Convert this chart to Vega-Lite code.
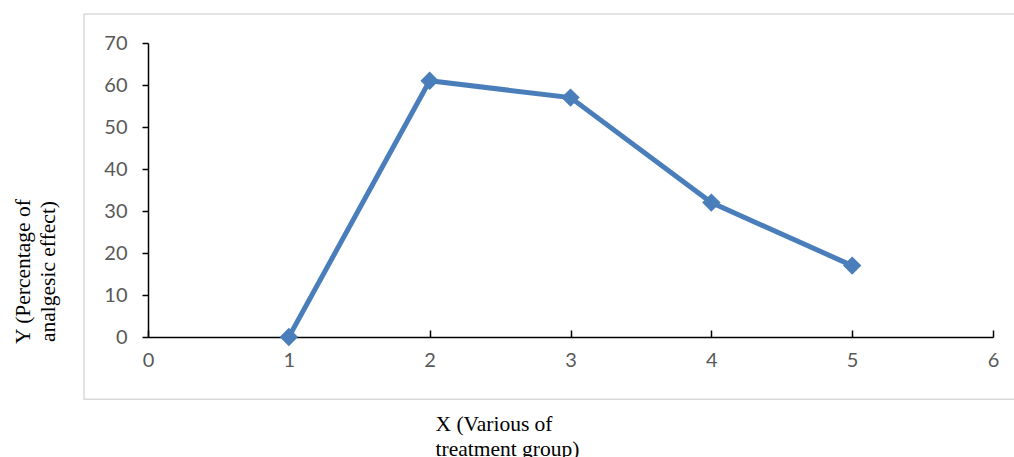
{
  "$schema": "https://vega.github.io/schema/vega-lite/v6.json",
  "autosize": "none",
  "width": 845,
  "height": 294,
  "padding": {"left": 148, "top": 43, "right": 21, "bottom": 120},
  "background": "white",
  "config": {"view": {"stroke": null}},
  "layer": [
    {
      "data": {"values": [{}]},
      "mark": {"type": "rect", "fill": null, "stroke": "#d9d9d9", "strokeWidth": 1.5, "clip": false},
      "encoding": {
        "x": {"datum": -0.454, "type": "quantitative", "scale": {"domain": [0, 6], "nice": false}},
        "x2": {"datum": 6.16},
        "y": {"datum": -14.8, "type": "quantitative", "scale": {"domain": [0, 70], "nice": false}},
        "y2": {"datum": 76.9}
      }
    },
    {
      "data": {
        "values": [
          {"x": 1, "y": 0},
          {"x": 2, "y": 61},
          {"x": 3, "y": 57},
          {"x": 4, "y": 32},
          {"x": 5, "y": 17}
        ]
      },
      "layer": [
        {
          "mark": {"type": "line", "color": "#4a7ebb", "strokeWidth": 5},
          "encoding": {
            "x": {"field": "x", "type": "quantitative"},
            "y": {"field": "y", "type": "quantitative"}
          }
        },
        {
          "mark": {"type": "point", "shape": "diamond", "filled": true, "color": "#4a7ebb", "size": 340, "opacity": 1},
          "encoding": {
            "x": {"field": "x", "type": "quantitative"},
            "y": {"field": "y", "type": "quantitative"}
          }
        }
      ],
      "encoding": {}
    }
  ],
  "resolve": {"scale": {"x": "shared", "y": "shared"}},
  "encoding": {
    "x": {
      "type": "quantitative",
      "axis": {
        "values": [0, 1, 2, 3, 4, 5, 6],
        "grid": false,
        "labelFlush": false,
        "domainColor": "black",
        "domainWidth": 1.5,
        "tickColor": "black",
        "tickWidth": 1.5,
        "tickSize": -7,
        "labelPadding": 20,
        "labelFont": "Lato",
        "labelFontSize": 20,
        "labelColor": "#595959",
        "title": ["X (Various of", "treatment group)"],
        "titleFont": "Liberation Serif",
        "titleFontSize": 21.5,
        "titleFontWeight": "normal",
        "titleColor": "black",
        "titleAlign": "left",
        "titleBaseline": "alphabetic",
        "titleLineHeight": 25,
        "titleX": 287,
        "titleY": 93
      }
    },
    "y": {
      "type": "quantitative",
      "axis": {
        "values": [0, 10, 20, 30, 40, 50, 60, 70],
        "grid": false,
        "domainColor": "black",
        "domainWidth": 1.5,
        "tickColor": "black",
        "tickWidth": 1.5,
        "tickSize": 6,
        "labelPadding": 15,
        "labelFont": "Lato",
        "labelFontSize": 20,
        "labelColor": "#595959",
        "title": ["Y (Percentage of", "analgesic effect)"],
        "titleFont": "Liberation Serif",
        "titleFontSize": 21.5,
        "titleFontWeight": "normal",
        "titleColor": "black",
        "titleAngle": -90,
        "titleAlign": "center",
        "titleBaseline": "alphabetic",
        "titleLineHeight": 25,
        "titleX": -119,
        "titleY": 228
      }
    }
  }
}
